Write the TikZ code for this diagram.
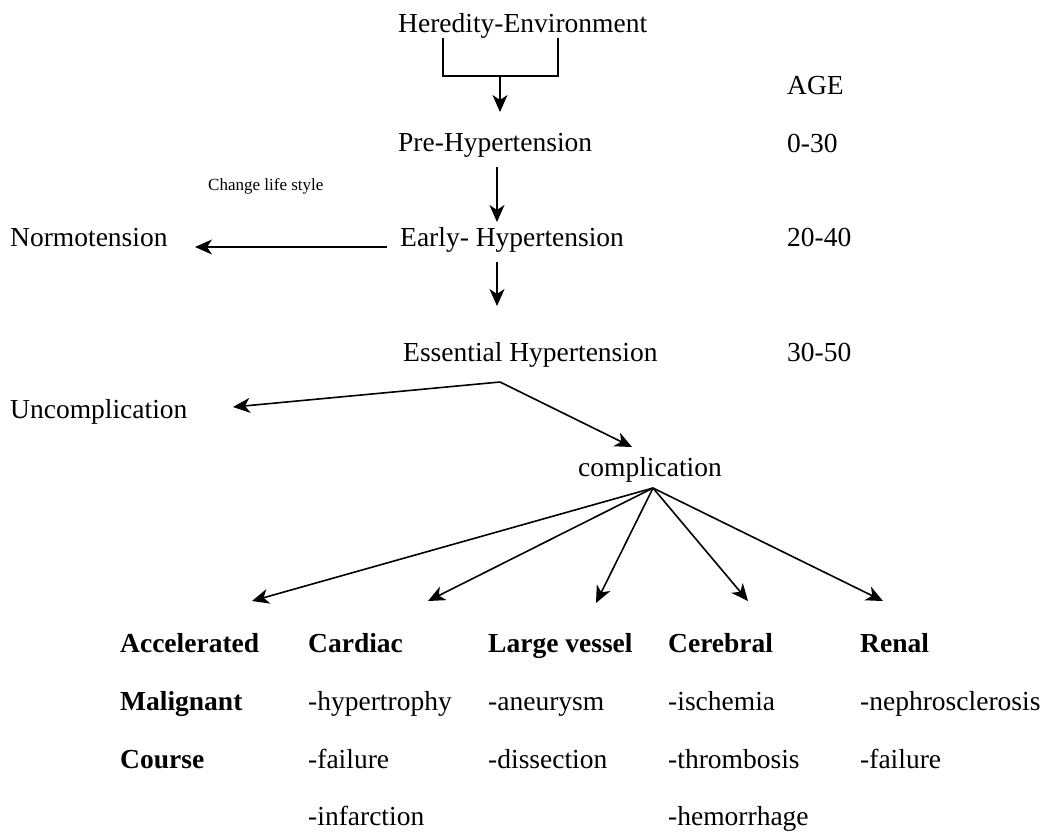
\documentclass[tikz,border=0pt]{standalone}
\usepackage{fontspec}
\setmainfont{Liberation Serif}
\usepackage{tikz}
\usetikzlibrary{arrows.meta}

\tikzset{
  txt/.style={anchor=base west, inner sep=0pt, font=\fontsize{27.5}{33}\selectfont},
  head/.style={txt, font=\fontsize{27.5}{33}\selectfont\bfseries},
  small/.style={anchor=base west, inner sep=0pt, font=\fontsize{17}{20}\selectfont},
  flow/.style={line width=1.6pt, -{Stealth[length=17pt,width=15pt,inset=5pt]}}
}

\begin{document}
\begin{tikzpicture}[x=1pt,y=-1pt]
    \useasboundingbox (0,0) rectangle (1051,838);
    %stages down the middle
    \node[txt] (hered) at (398,32) {Heredity-Environment};
    \node[txt] (pre) at (398,151) {Pre-Hypertension};
    \node[txt] (early) at (400,246) {Early- Hypertension};
    \node[txt] (ess) at (403,361) {Essential Hypertension};
    \node[txt] (compl) at (578,476) {complication};
    %age column
    \node[txt] (age) at (787,94) {AGE};
    \node[txt] (age1) at (787,152) {0-30};
    \node[txt] (age2) at (787,246) {20-40};
    \node[txt] (age3) at (787,361) {30-50};
    %side branches
    \node[small] (life) at (208,190) {Change life style};
    \node[txt] (normo) at (10,246) {Normotension};
    \node[txt] (uncompl) at (10,418) {Uncomplication};
    %connector ends
    \coordinate (brL) at (443,38);
    \coordinate (brR) at (558,38);
    \coordinate (brM) at (500,76);
    \coordinate (essTip) at (500,382);
    \coordinate (compTip) at (653,488);
    \draw[line width=1.6pt] (brL) -- (brL |- brM) -- (brR |- brM) -- (brR);
    \draw[flow] (brM) -- (500,112);
    \draw[flow] (497,167) -- (497,222);
    \draw[flow] (387,247) -- (195,247);
    \draw[flow] (497,262) -- (497,306);
    \draw[flow] (essTip) -- (233,407);
    \draw[flow] (essTip) -- (632,447);
    %outcomes
    \node[head] (acc) at (120,652) {Accelerated};
    \node[head] (acc2) at (120,710) {Malignant};
    \node[head] (acc3) at (120,768) {Course};
    \node[head] (card) at (308,652) {Cardiac};
    \node[txt] (card2) at (308,710) {-hypertrophy};
    \node[txt] (card3) at (308,768) {-failure};
    \node[txt] (card4) at (308,825) {-infarction};
    \node[head] (vess) at (488,652) {Large vessel};
    \node[txt] (vess2) at (488,710) {-aneurysm};
    \node[txt] (vess3) at (488,768) {-dissection};
    \node[head] (cere) at (668,652) {Cerebral};
    \node[txt] (cere2) at (668,710) {-ischemia};
    \node[txt] (cere3) at (668,768) {-thrombosis};
    \node[txt] (cere4) at (668,825) {-hemorrhage};
    \node[head] (ren) at (860,652) {Renal};
    \node[txt] (ren2) at (860,710) {-nephrosclerosis};
    \node[txt] (ren3) at (860,768) {-failure};
    \draw[flow] (compTip) -- (252,601);
    \draw[flow] (compTip) -- (428,601);
    \draw[flow] (compTip) -- (596,603);
    \draw[flow] (compTip) -- (748,601);
    \draw[flow] (compTip) -- (883,601);
\end{tikzpicture}
\end{document}
